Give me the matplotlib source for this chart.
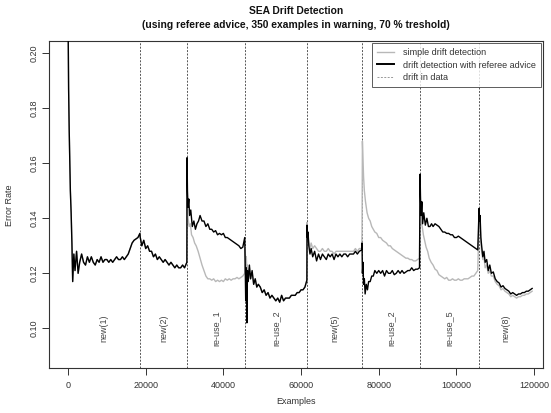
import matplotlib
matplotlib.use("Agg")
import matplotlib.pyplot as plt
from matplotlib.lines import Line2D

plt.rcParams['font.family'] = ['Liberation Sans', 'DejaVu Sans']

# ---------------- data ----------------
drift_points = [18530, 30630, 45560, 61520, 75680, 90610, 105800]
segment_labels = ["new(1)", "new(2)", "re-use_1", "re-use_2", "new(5)", "re-use_2", "re-use_5", "new(8)"]
segment_edges = [0, 18530, 30630, 45560, 61520, 75680, 90610, 105800, 119600]
label_level = 0.10

# segment 1 (new(1)) - both methods identical
s1_x = [0, 150, 300, 450, 600, 800, 1000, 1200, 1500, 1800, 2200, 2600, 3000, 3500, 4000, 4500,
        5000, 5500, 6000, 6500, 7000, 7500, 8000, 8500, 9000, 9500, 10000, 10500, 11000, 11500,
        12000, 12500, 13000, 13500, 14000, 14500, 15000, 15500, 16000, 16500, 17000, 17500, 18000, 18500]
s1_y = [0.215, 0.187, 0.172, 0.161, 0.150, 0.142, 0.131, 0.117, 0.127, 0.121, 0.128, 0.120, 0.124,
        0.127, 0.124, 0.123, 0.126, 0.124, 0.126, 0.124, 0.123, 0.125, 0.124, 0.126, 0.124, 0.125,
        0.125, 0.124, 0.125, 0.124, 0.125, 0.126, 0.125, 0.125, 0.126, 0.125, 0.126, 0.127, 0.129,
        0.131, 0.132, 0.1325, 0.133, 0.1345]

# segment 2 (new(2)) - both methods identical
s2_x = [18600, 19000, 19500, 20000, 20500, 21000, 21500, 22000, 22500, 23000, 23500, 24000, 24500,
        25000, 25500, 26000, 26500, 27000, 27500, 28000, 28500, 29000, 29500, 30000, 30600]
s2_y = [0.133, 0.130, 0.132, 0.129, 0.130, 0.128, 0.128, 0.126, 0.127, 0.125, 0.126, 0.125, 0.124,
        0.125, 0.124, 0.123, 0.124, 0.123, 0.122, 0.123, 0.122, 0.122, 0.123, 0.122, 0.124]

# segment 3 (re-use_1)
s3_ref_x = [30650, 30750, 30900, 31100, 31300, 31600, 32000, 32400, 32800, 33200, 33600, 34000,
            34500, 35000, 35500, 36000, 36500, 37000, 37500, 38000, 38500, 39000, 39500, 40000,
            40500, 41000, 41500, 42000, 42500, 43000, 43500, 44000, 44500, 45000, 45500]
s3_ref_y = [0.162, 0.150, 0.144, 0.147, 0.141, 0.143, 0.137, 0.139, 0.136, 0.138, 0.139, 0.141,
            0.139, 0.139, 0.137, 0.138, 0.136, 0.136, 0.135, 0.1355, 0.134, 0.1345, 0.134, 0.1345,
            0.133, 0.133, 0.1325, 0.132, 0.1315, 0.131, 0.1305, 0.130, 0.129, 0.1295, 0.133]
s3_simple_x = [30650, 30750, 30900, 31200, 31500, 31800, 32200, 32600, 33000, 33500, 34000, 34500,
               35000, 35500, 36000, 36500, 37000, 37500, 38000, 38500, 39000, 39500, 40000, 40500,
               41000, 41500, 42000, 42500, 43000, 43500, 44000, 44500, 45000, 45500]
s3_simple_y = [0.150, 0.143, 0.140, 0.137, 0.138, 0.134, 0.133, 0.131, 0.130, 0.128, 0.1255, 0.123,
               0.121, 0.119, 0.118, 0.118, 0.1175, 0.118, 0.117, 0.1175, 0.117, 0.1175, 0.117, 0.118,
               0.1175, 0.118, 0.1175, 0.118, 0.118, 0.1185, 0.118, 0.1185, 0.119, 0.120]

# segment 4 (re-use_2)
s4_ref_x = [45600, 45750, 45900, 46050, 46200, 46400, 46700, 47000, 47400, 47800, 48200, 48600,
            49000, 49500, 50000, 50500, 51000, 51500, 52000, 52500, 53000, 53500, 54000, 54500,
            55000, 55500, 56000, 56500, 57000, 57500, 58000, 58500, 59000, 59500, 60000, 60500,
            61000, 61500]
s4_ref_y = [0.125, 0.110, 0.122, 0.102, 0.121, 0.117, 0.123, 0.118, 0.121, 0.116, 0.118, 0.115,
            0.116, 0.115, 0.113, 0.114, 0.112, 0.113, 0.111, 0.112, 0.111, 0.110, 0.111, 0.1095,
            0.112, 0.110, 0.111, 0.111, 0.111, 0.112, 0.112, 0.112, 0.113, 0.113, 0.114, 0.114,
            0.115, 0.1175]
s4_simple_y = [0.129, 0.124, 0.126, 0.121, 0.123, 0.118, 0.122, 0.118, 0.120, 0.116, 0.118, 0.115,
               0.116, 0.115, 0.113, 0.114, 0.112, 0.113, 0.111, 0.112, 0.111, 0.110, 0.111, 0.1095,
               0.112, 0.110, 0.111, 0.111, 0.111, 0.112, 0.112, 0.112, 0.113, 0.113, 0.114, 0.114,
               0.115, 0.1175]

# segment 5 (new(5))
s5_x = [61550, 61650, 61800, 62000, 62300, 62600, 63000, 63500, 64000, 64500, 65000, 65500, 66000,
        66500, 67000, 67500, 68000, 68500, 69000, 69500, 70000, 70500, 71000, 71500, 72000, 72500,
        73000, 73500, 74000, 74500, 75000, 75600]
s5_ref_y = [0.1375, 0.133, 0.135, 0.130, 0.127, 0.129, 0.126, 0.128, 0.1245, 0.127, 0.125, 0.127,
            0.126, 0.125, 0.127, 0.126, 0.127, 0.125, 0.127, 0.126, 0.127, 0.126, 0.127, 0.127,
            0.126, 0.127, 0.127, 0.127, 0.128, 0.127, 0.128, 0.1285]
s5_simple_y = [0.1385, 0.134, 0.133, 0.131, 0.129, 0.131, 0.129, 0.130, 0.129, 0.128, 0.128, 0.129,
               0.128, 0.128, 0.129, 0.128, 0.128, 0.127, 0.128, 0.128, 0.128, 0.128, 0.128, 0.128,
               0.128, 0.128, 0.128, 0.128, 0.129, 0.128, 0.129, 0.129]

# segment 6 (re-use_2)
s6_ref_x = [75700, 75800, 75950, 76100, 76300, 76500, 76800, 77100, 77400, 77800, 78200, 78600,
            79000, 79500, 80000, 80500, 81000, 81500, 82000, 82500, 83000, 83500, 84000, 84500,
            85000, 85500, 86000, 86500, 87000, 87500, 88000, 88500, 89000, 89500, 90000, 90500]
s6_ref_y = [0.131, 0.120, 0.124, 0.116, 0.118, 0.1125, 0.116, 0.114, 0.117, 0.117, 0.119, 0.119,
            0.121, 0.120, 0.121, 0.120, 0.121, 0.119, 0.121, 0.120, 0.120, 0.121, 0.1195, 0.120,
            0.121, 0.120, 0.121, 0.120, 0.1205, 0.121, 0.121, 0.122, 0.121, 0.1215, 0.1215, 0.122]
s6_simple_x = [75700, 75800, 75950, 76100, 76300, 76600, 77000, 77400, 77800, 78200, 78600, 79000,
               79500, 80000, 80500, 81000, 81500, 82000, 82500, 83000, 83500, 84000, 84500, 85000,
               85500, 86000, 86500, 87000, 87500, 88000, 88500, 89000, 89500, 90000, 90500]
s6_simple_y = [0.135, 0.168, 0.161, 0.155, 0.150, 0.146, 0.142, 0.140, 0.139, 0.137, 0.136, 0.135,
               0.1345, 0.133, 0.133, 0.132, 0.1315, 0.131, 0.130, 0.130, 0.129, 0.1285, 0.128, 0.1275,
               0.127, 0.1265, 0.126, 0.1255, 0.1255, 0.125, 0.125, 0.1245, 0.1245, 0.125, 0.1255]

# segment 7 (re-use_5)
s7_ref_x = [90650, 90750, 90900, 91100, 91300, 91600, 92000, 92400, 92800, 93200, 93600, 94000,
            94500, 95000, 95500, 96000, 96500, 97000, 97500, 98000, 98500, 99000, 99500, 100000,
            100500, 101000, 101500, 102000, 102500, 103000, 103500, 104000, 104500, 105000, 105500]
s7_ref_y = [0.156, 0.148, 0.141, 0.146, 0.138, 0.142, 0.1375, 0.140, 0.137, 0.137, 0.138, 0.137,
            0.138, 0.1375, 0.137, 0.136, 0.135, 0.135, 0.1345, 0.1345, 0.134, 0.134, 0.133, 0.133,
            0.1335, 0.133, 0.1325, 0.132, 0.1315, 0.131, 0.1305, 0.130, 0.1295, 0.129, 0.1285]
s7_simple_x = [90650, 90750, 90900, 91200, 91500, 91800, 92200, 92600, 93000, 93500, 94000, 94500,
               95000, 95500, 96000, 96500, 97000, 97500, 98000, 98500, 99000, 99500, 100000, 100500,
               101000, 101500, 102000, 102500, 103000, 103500, 104000, 104500, 105000, 105500]
s7_simple_y = [0.150, 0.142, 0.139, 0.137, 0.134, 0.132, 0.1295, 0.128, 0.1255, 0.124, 0.123, 0.1215,
               0.121, 0.1195, 0.119, 0.1185, 0.118, 0.1185, 0.1175, 0.1175, 0.118, 0.1175, 0.1175, 0.118,
               0.1175, 0.1175, 0.118, 0.118, 0.118, 0.1185, 0.119, 0.119, 0.120, 0.121]

# segment 8 (new(8))
s8_x = [105850, 105950, 106100, 106300, 106500, 106800, 107100, 107400, 107800, 108200, 108600,
        109000, 109500, 110000, 110500, 111000, 111500, 112000, 112500, 113000, 113500, 114000,
        114500, 115000, 115500, 116000, 116500, 117000, 117500, 118000, 118500, 119000, 119500]
s8_ref_y = [0.1436, 0.139, 0.141, 0.133, 0.130, 0.126, 0.128, 0.124, 0.125, 0.121, 0.123, 0.120,
            0.1205, 0.118, 0.117, 0.1165, 0.115, 0.1155, 0.1145, 0.114, 0.1135, 0.1125, 0.113, 0.1125,
            0.112, 0.1125, 0.1125, 0.113, 0.113, 0.1135, 0.1135, 0.114, 0.1145]
s8_simple_y = [0.140, 0.137, 0.138, 0.131, 0.128, 0.125, 0.126, 0.122, 0.123, 0.120, 0.121, 0.119,
               0.119, 0.117, 0.116, 0.1155, 0.114, 0.1145, 0.1135, 0.113, 0.1125, 0.1115, 0.112, 0.1115,
               0.111, 0.1115, 0.1115, 0.112, 0.112, 0.1125, 0.1125, 0.113, 0.1135]

x_ticks = [0, 20000, 40000, 60000, 80000, 100000, 120000]
y_ticks = [0.10, 0.12, 0.14, 0.16, 0.18, 0.20]

# ---------------- assemble ----------------
ref_x = s1_x + s2_x + s3_ref_x + s4_ref_x + s5_x + s6_ref_x + s7_ref_x + s8_x
ref_y = s1_y + s2_y + s3_ref_y + s4_ref_y + s5_ref_y + s6_ref_y + s7_ref_y + s8_ref_y
simple_x = s1_x + s2_x + s3_simple_x + s4_ref_x + s5_x + s6_simple_x + s7_simple_x + s8_x
simple_y = s1_y + s2_y + s3_simple_y + s4_simple_y + s5_simple_y + s6_simple_y + s7_simple_y + s8_simple_y

W, H = 551, 413
fig = plt.figure(figsize=(W / 100, H / 100), dpi=100)
L, R, T, B = 49, 543, 41, 368
ax = fig.add_axes([L / W, 1 - B / H, (R - L) / W, (B - T) / H])

simple_col = '#b8b8b8'
ax.plot(simple_x, simple_y, color=simple_col, lw=1.0, zorder=2)
ax.plot(ref_x, ref_y, color='black', lw=1.0, zorder=3)
for d in drift_points:
    ax.axvline(d, color='#555555', lw=0.7, ls=(0, (2, 1.5)), zorder=1)

for i, lab in enumerate(segment_labels):
    cx = (segment_edges[i] + segment_edges[i + 1]) / 2
    ax.text(cx, label_level, lab, rotation=90, ha='center', va='center', fontsize=6.5,
            color='#444444')

# R-style 4 % padding around ylim = (0.09, 0.20)
ax.set_xlim(-4900, 122300)
ax.set_ylim(0.09 - 0.0044, 0.20 + 0.0044)
ax.set_xticks(x_ticks)
ax.set_xticklabels([str(v) for v in x_ticks])
ax.set_yticks(y_ticks)
ax.set_yticklabels(["%.2f" % v for v in y_ticks], rotation=90, va='center')
ax.tick_params(axis='both', direction='out', length=5, width=0.7, labelsize=6.5,
               colors='#333333')
ax.tick_params(axis='x', pad=4)
ax.tick_params(axis='y', pad=2.5)
for s in ax.spines.values():
    s.set_linewidth(0.8)
    s.set_color('#333333')

fig.text(0.5 * (L + R) / W, 1 - 11 / H, "SEA Drift Detection", ha='center', va='center',
         fontsize=7.4, fontweight='bold', color='#111111')
fig.text(0.5 * (L + R) / W, 1 - 25 / H,
         "(using referee advice, 350 examples in warning, 70 % treshold)",
         ha='center', va='center', fontsize=7.4, fontweight='bold', color='#111111')
fig.text((L + R) / 2 / W, 1 - 401 / H, "Examples", ha='center', va='center', fontsize=6.5,
         color='#333333')
fig.text(9 / W, 1 - 205 / H, "Error Rate", ha='center', va='center', rotation=90, fontsize=6.5,
         color='#333333')

handles = [Line2D([], [], color=simple_col, lw=1.0),
           Line2D([], [], color='black', lw=1.4),
           Line2D([], [], color='#999999', lw=0.7, ls=(0, (2, 1.5)))]
leg = ax.legend(handles, ["simple drift detection", "drift detection with referee advice", "drift in data"],
                loc='upper right', bbox_to_anchor=(541 / W, 1 - 43 / H),
                bbox_transform=fig.transFigure, fontsize=6.5, frameon=True, fancybox=False,
                edgecolor='#333333', borderaxespad=0, handlelength=1.8, handletextpad=1.0,
                labelspacing=0.35, borderpad=0.6)
leg.get_frame().set_linewidth(0.7)
for t in leg.get_texts():
    t.set_color('#333333')

fig.savefig("out.png", dpi=100)
